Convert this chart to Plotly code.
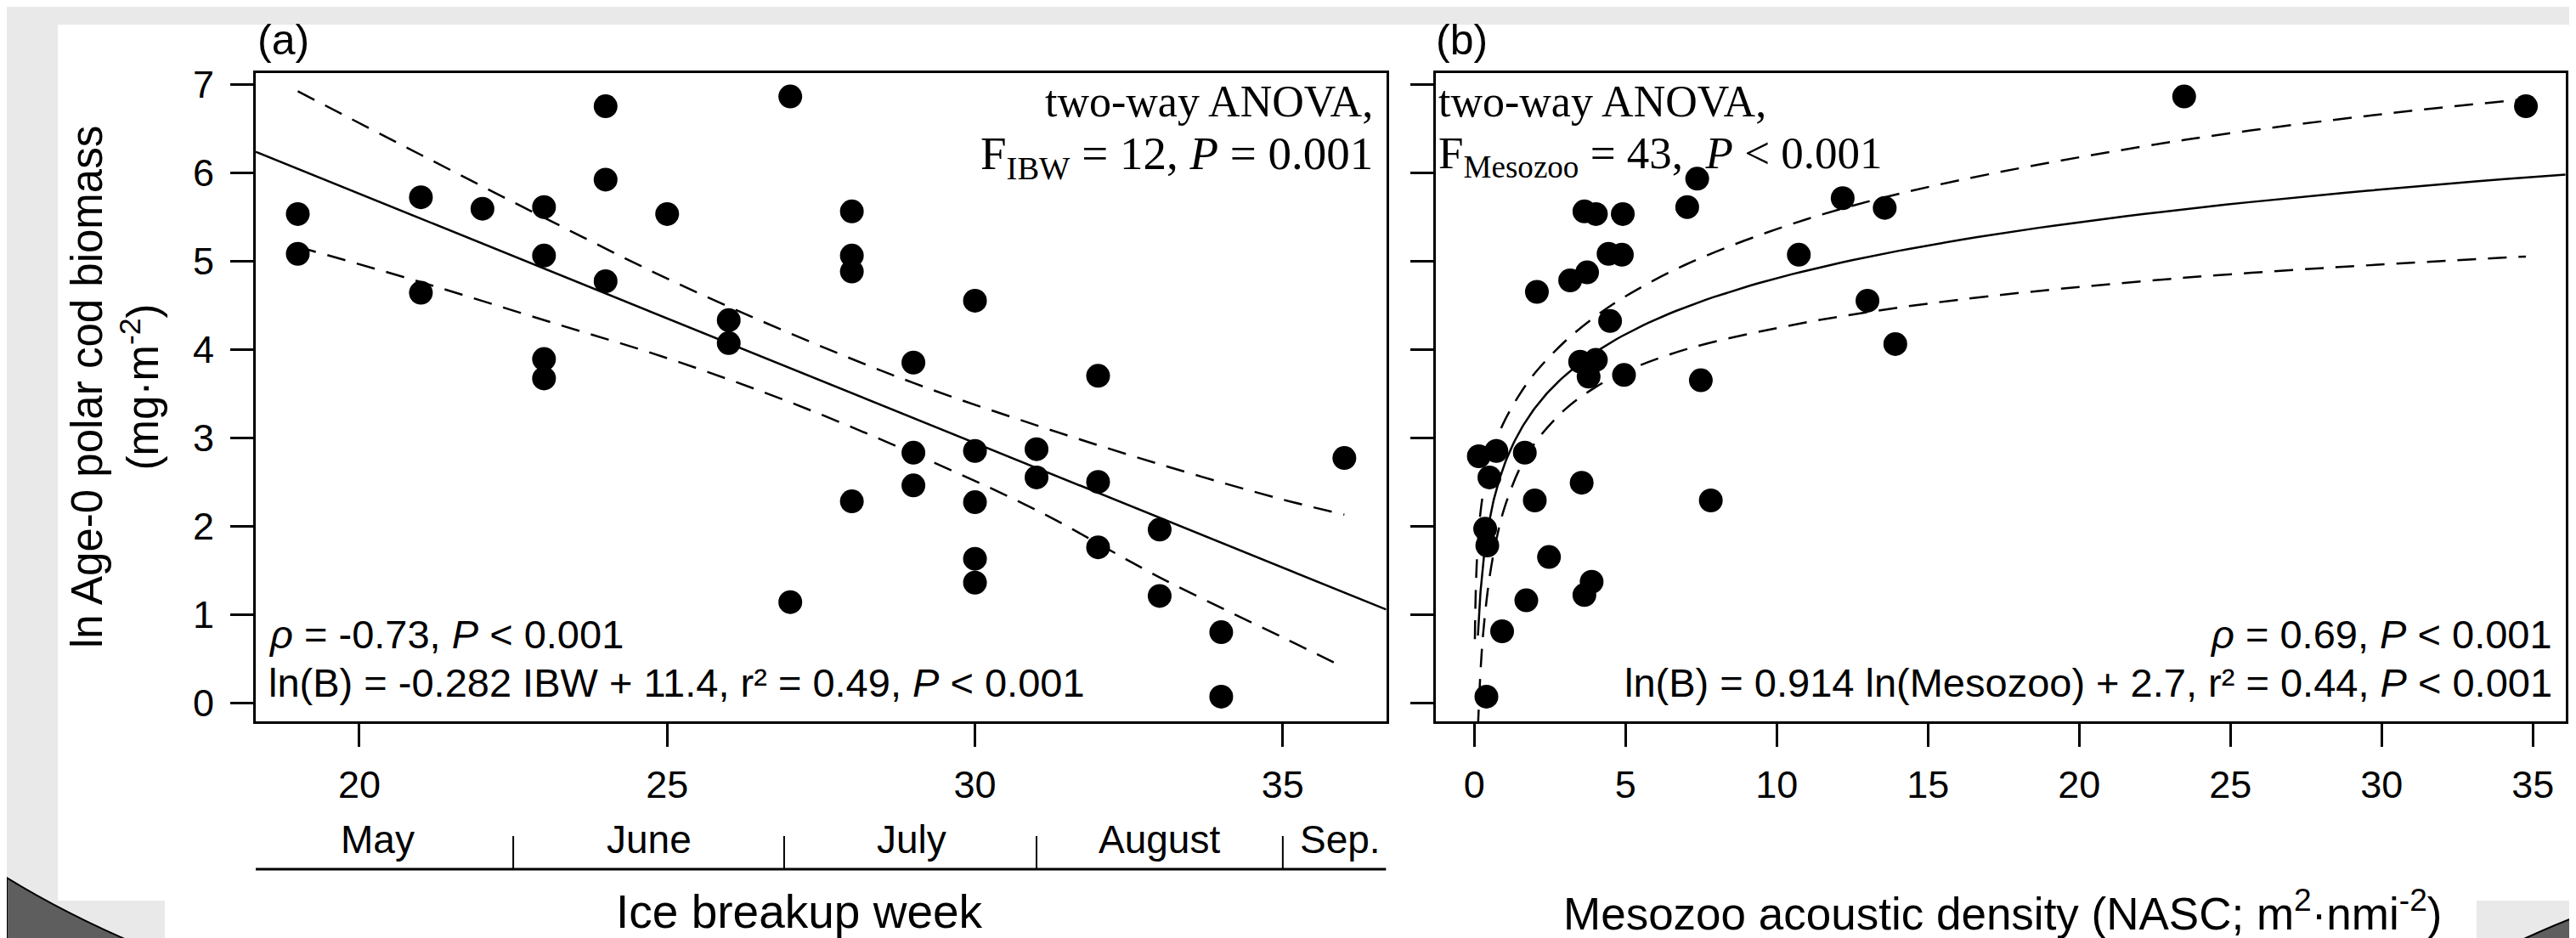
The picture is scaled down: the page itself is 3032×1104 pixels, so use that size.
import numpy as np
import plotly.graph_objects as go

W, H = 3032, 1104

# ---------------- data: panel (a) ----------------
ibw_weeks = [19, 19, 21, 21, 22, 23, 23, 23, 23, 24, 24, 24, 25, 26, 26, 27, 27,
             28, 28, 28, 28, 29, 29, 29, 30, 30, 30, 30, 30, 31, 31, 32, 32, 32,
             33, 33, 34, 34, 36]
ibw_lnB = [5.53, 5.08, 5.72, 4.64, 5.59, 5.61, 5.06, 3.89, 3.67, 6.75, 5.92, 4.77,
           5.53, 4.33, 4.07, 6.86, 1.14, 5.56, 5.06, 4.88, 2.28, 3.85, 2.83, 2.46,
           4.55, 2.85, 2.27, 1.63, 1.36, 2.87, 2.55, 3.70, 2.50, 1.76, 1.96, 1.21,
           0.80, 0.07, 2.77]
fit_a_slope, fit_a_intercept = -0.282, 11.4
ci_a_weeks = [19, 21, 23, 25, 27, 29, 31, 33, 35, 36]
ci_a_upper = [6.92, 6.20, 5.49, 4.80, 4.18, 3.62, 3.14, 2.70, 2.30, 2.13]
ci_a_lower = [5.16, 4.76, 4.33, 3.90, 3.40, 2.82, 2.18, 1.42, 0.74, 0.40]
month_names = ["May", "June", "July", "August", "Sep."]
month_label_weeks = [20.3, 24.7, 28.97, 33.0, 35.94]
month_bounds = [22.5, 26.9, 31.0, 35.0]
xticks_a = [20, 25, 30, 35]

# ---------------- data: panel (b) ----------------
meso_nasc = [0.15, 0.73, 1.67, 0.50, 3.55, 2.00, 7.82, 0.36, 0.43, 2.47, 3.88, 3.64,
             1.72, 0.92, 0.40, 3.50, 4.02, 3.78, 4.95, 7.49, 4.49, 2.07, 3.17, 3.73,
             4.44, 4.88, 3.64, 4.02, 4.91, 7.04, 7.37, 23.47, 34.77, 12.18, 13.57,
             10.73, 13.00, 13.92]
meso_lnB = [2.79, 2.85, 2.83, 2.55, 2.49, 2.29, 2.29, 1.97, 1.78, 1.65, 1.37, 1.22,
            1.16, 0.81, 0.07, 3.86, 3.88, 3.69, 3.71, 3.65, 4.32, 4.65, 4.78, 4.87,
            5.08, 5.07, 5.56, 5.53, 5.53, 5.61, 5.93, 6.86, 6.75, 5.71, 5.60, 5.07,
            4.55, 4.06]
fit_b_slope, fit_b_intercept = 0.914, 2.7
fit_b_xmin = 0.12
ci_b_upper_x = [0.02, 0.03, 0.05, 0.08, 0.12, 0.2, 0.3, 0.5, 0.75, 1, 1.5, 2, 3, 4,
                5, 7, 10, 13, 17, 23.5, 30, 34.77]
ci_b_upper = [0.72, 0.97, 1.28, 1.57, 1.82, 2.14, 2.39, 2.72, 2.99, 3.19, 3.49, 3.73,
              4.09, 4.37, 4.60, 4.96, 5.36, 5.67, 5.98, 6.37, 6.66, 6.83]
ci_b_lower_x = [0.12, 0.2, 0.3, 0.5, 0.75, 1, 1.5, 2, 3, 4, 5, 7, 10, 13, 17, 23.5,
                30, 34.77]
ci_b_lower = [-0.29, 0.32, 0.81, 1.41, 1.88, 2.21, 2.65, 2.94, 3.32, 3.57, 3.75, 4.00,
              4.24, 4.42, 4.60, 4.81, 4.96, 5.05]
xticks_b = [0, 5, 10, 15, 20, 25, 30, 35]
yticks = [0, 1, 2, 3, 4, 5, 6, 7]

# ---------------- layout helpers (pixel -> paper) ----------------
def X(p):
    return p / W

def Y(p):
    return 1 - p / H

SANS = "Liberation Sans, Arial, sans-serif"
SERIF = "Liberation Serif, Times New Roman, serif"

xr_a = [18.317, 36.68]
xr_b = [-1.28, 36.08]
yr = [-0.209, 7.13]
DASH = "22px,14px"

fig = go.Figure()

# panel (a)
fig.add_trace(go.Scatter(x=ibw_weeks, y=ibw_lnB, mode="markers",
                         marker=dict(size=28, color="black", line=dict(width=0)),
                         xaxis="x", yaxis="y", showlegend=False))
fig.add_trace(go.Scatter(x=xr_a, y=[fit_a_slope * v + fit_a_intercept for v in xr_a],
                         mode="lines", line=dict(color="black", width=2.5),
                         xaxis="x", yaxis="y", showlegend=False))
for ys in (ci_a_upper, ci_a_lower):
    fig.add_trace(go.Scatter(x=ci_a_weeks, y=ys, mode="lines", line_shape="spline",
                             line=dict(color="black", width=2.5, dash=DASH),
                             xaxis="x", yaxis="y", showlegend=False))

# panel (b)
fb_x = np.geomspace(fit_b_xmin, xr_b[1], 200)
fig.add_trace(go.Scatter(x=fb_x, y=fit_b_slope * np.log(fb_x) + fit_b_intercept,
                         mode="lines", line=dict(color="black", width=2.5),
                         xaxis="x2", yaxis="y2", showlegend=False))
fig.add_trace(go.Scatter(x=ci_b_upper_x, y=ci_b_upper, mode="lines", line_shape="spline",
                         line=dict(color="black", width=2.5, dash=DASH),
                         xaxis="x2", yaxis="y2", showlegend=False))
fig.add_trace(go.Scatter(x=ci_b_lower_x, y=ci_b_lower, mode="lines", line_shape="spline",
                         line=dict(color="black", width=2.5, dash=DASH),
                         xaxis="x2", yaxis="y2", showlegend=False))
fig.add_trace(go.Scatter(x=meso_nasc, y=meso_lnB, mode="markers",
                         marker=dict(size=28, color="black", line=dict(width=0)),
                         xaxis="x2", yaxis="y2", showlegend=False))

axis_common = dict(showline=True, linecolor="black", linewidth=3, mirror=True,
                   ticks="outside", ticklen=27, tickwidth=3, tickcolor="black",
                   showgrid=False, zeroline=False, automargin=False,
                   tickfont=dict(family=SANS, size=45, color="black"))

ydom = [Y(841), Y(77.5)]
fig.update_layout(
    width=W, height=H, autosize=False, template="none",
    margin=dict(l=0, r=0, t=0, b=0, pad=0),
    paper_bgcolor="#e9e9e9", plot_bgcolor="white",
    showlegend=False,
    xaxis=dict(domain=[X(293), X(1623.6)], range=xr_a, tickvals=xticks_a,
               anchor="y", ticklabelstandoff=6, **axis_common),
    yaxis=dict(domain=ydom, range=yr, tickvals=yticks, anchor="x",
               ticklabelstandoff=10, **axis_common),
    xaxis2=dict(domain=[X(1681.7), X(3011.7)], range=xr_b, tickvals=xticks_b,
                anchor="y2", ticklabelstandoff=6, **axis_common),
    yaxis2=dict(domain=ydom, range=yr, tickvals=yticks, anchor="x2",
                showticklabels=False, **axis_common),
)

# ---------------- background decoration ----------------
shapes = []
shapes.append(dict(type="rect", xref="paper", yref="paper", x0=X(60), x1=X(3032),
                   y0=Y(1052), y1=Y(21), fillcolor="white", line=dict(width=0),
                   layer="below"))
shapes.append(dict(type="rect", xref="paper", yref="paper", x0=X(186), x1=X(2907),
                   y0=Y(1104), y1=Y(1052), fillcolor="white", line=dict(width=0),
                   layer="below"))
shapes.append(dict(type="path", xref="paper", yref="paper",
                   path=f"M {X(0)},{Y(1025)} Q {X(70)},{Y(1068)} {X(155)},{Y(1104)} "
                        f"L {X(0)},{Y(1104)} Z",
                   fillcolor="#5e5e5e", line=dict(color="black", width=2), layer="below"))
shapes.append(dict(type="path", xref="paper", yref="paper",
                   path=f"M {X(2948)},{Y(1104)} Q {X(2992)},{Y(1083)} {X(3032)},{Y(1068)} "
                        f"L {X(3032)},{Y(1104)} Z",
                   fillcolor="#5e5e5e", line=dict(color="black", width=2), layer="below"))

# month bar under panel (a)
shapes.append(dict(type="line", xref="x", yref="paper", x0=xr_a[0], x1=xr_a[1],
                   y0=Y(1015), y1=Y(1015), line=dict(color="black", width=3)))
for b in month_bounds:
    shapes.append(dict(type="line", xref="x", yref="paper", x0=b, x1=b,
                       y0=Y(976), y1=Y(1015), line=dict(color="black", width=2)))
fig.update_layout(shapes=shapes)

# ---------------- annotations ----------------
DY = -10  # plotly places middle-anchored text slightly low; compensate
ann = []
for name, wk in zip(month_names, month_label_weeks):
    ann.append(dict(text=name, x=wk, xref="x", y=Y(990 + DY), yref="paper",
                    xanchor="center", yanchor="middle", showarrow=False,
                    font=dict(family=SANS, size=46, color="black")))

def txt(text, xp, yp, xa="left", ya="middle", size=47, family=SANS, angle=0):
    return dict(text=text, x=X(xp), y=Y(yp + DY), xref="paper", yref="paper",
                xanchor=xa, yanchor=ya, showarrow=False, textangle=angle,
                font=dict(family=family, size=size, color="black"))

ann.append(txt("(a)", 293, 49, size=50))
ann.append(txt("(b)", 1680, 49, size=50))
ann.append(txt("two-way ANOVA,", 1610, 121, xa="right", size=52, family=SERIF))
ann.append(txt("F<sub>IBW</sub> = 12, <i>P</i> = 0.001", 1610, 186, xa="right",
               size=55, family=SERIF))
ann.append(txt("two-way ANOVA,", 1683, 121, size=52, family=SERIF))
ann.append(txt("F<sub>Mesozoo</sub> = 43,  <i>P</i> &lt; 0.001", 1683, 186, size=53,
               family=SERIF))
ann.append(txt("<i>ρ</i> = -0.73, <i>P</i> &lt; 0.001", 306, 748))
ann.append(txt("ln(B) = -0.282 IBW + 11.4, r² = 0.49, <i>P</i> &lt; 0.001", 306, 805))
ann.append(txt("<i>ρ</i> = 0.69, <i>P</i> &lt; 0.001", 2998, 748, xa="right"))
ann.append(txt("ln(B) = 0.914 ln(Mesozoo) + 2.7, r² = 0.44, <i>P</i> &lt; 0.001",
               2998, 805, xa="right"))
ann.append(txt("Ice breakup week", 933, 1075, xa="center", size=55))
ann.append(txt("Mesozoo acoustic density (NASC; m<sup>2</sup>·nmi<sup>-2</sup>)",
               2349, 1073, xa="center", size=53))
ann.append(txt("ln Age-0 polar cod biomass<br>(mg·m<sup>-2</sup>)", 127, 458,
               xa="center", size=51, angle=-90))
fig.update_layout(annotations=ann)

fig.write_html("out.html")
